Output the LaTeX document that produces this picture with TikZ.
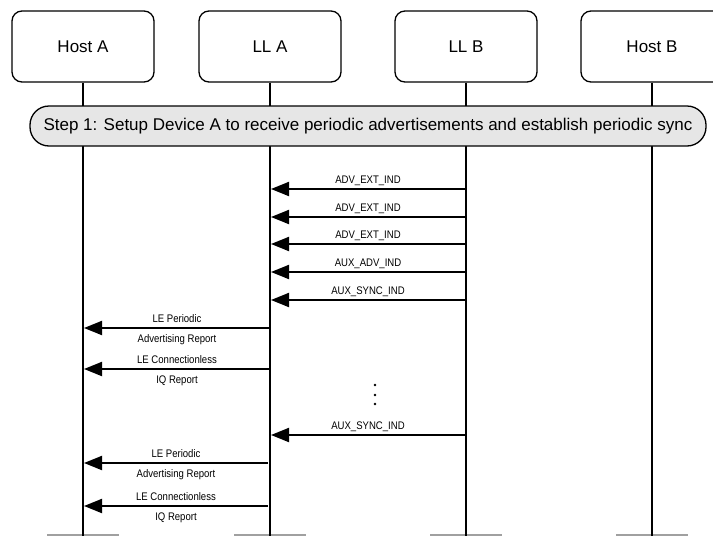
\documentclass[tikz,border=0pt]{standalone}
\usepackage{fontspec}
\setmainfont{Liberation Sans}
\newfontfamily\narrowfont[FakeStretch=0.87]{Liberation Sans}
\usetikzlibrary{arrows.meta}
\definecolor{stepfill}{RGB}{230,230,230}
\definecolor{capgray}{RGB}{160,160,160}

\begin{document}
\begin{tikzpicture}[x=1pt,y=-1pt,
  actor/.style={draw, line width=1.3pt, rounded corners=10pt,
    minimum width=142pt, minimum height=71pt,
    font=\fontsize{17}{20}\selectfont},
  lifeline/.style={line width=2pt},
  endcap/.style={draw=capgray, line width=1.5pt},
  stepband/.style={draw, line width=1.3pt, fill=stepfill, rounded corners=19pt,
    minimum width=676pt, minimum height=40pt,
    font=\fontsize{17}{20}\selectfont},
  msg/.style={line width=2pt, -{Triangle[length=18pt,width=14pt]}},
  lbl/.style={font=\narrowfont\fontsize{11}{13}\selectfont, inner sep=0pt, anchor=base},
  lblup/.style={lbl, midway, yshift=6pt},
  lbldown/.style={lbl, midway, yshift=-14pt}]
\clip (0,0) rectangle (713,536);

% participants
\node[actor] (hostA) at (83,46.5) {Host A};
\node[actor] (llA)   at (270,46.5) {LL A};
\node[actor] (llB)   at (466,46.5) {LL B};
\node[actor] (hostB) at (652,46.5) {Host B};

% lower ends of the lifelines
\coordinate (endHA) at (83,536);
\coordinate (endLA) at (270,536);
\coordinate (endLB) at (466,536);
\coordinate (endHB) at (652,536);

% bottom caps
\draw[endcap] ([xshift=-36pt,yshift=1pt]endHA) -- ([xshift=36pt,yshift=1pt]endHA);
\draw[endcap] ([xshift=-36pt,yshift=1pt]endLA) -- ([xshift=36pt,yshift=1pt]endLA);
\draw[endcap] ([xshift=-36pt,yshift=1pt]endLB) -- ([xshift=36pt,yshift=1pt]endLB);
\draw[endcap] ([xshift=-36pt,yshift=1pt]endHB) -- ([xshift=36pt,yshift=1pt]endHB);

% lifelines
\draw[lifeline] (hostA.south) -- (endHA);
\draw[lifeline] (llA.south) -- (endLA);
\draw[lifeline] (llB.south) -- (endLB);
\draw[lifeline] (hostB.south) -- (endHB);

% step banner
\node[stepband] (step) at (368,126)
  {Step 1: Setup Device A to receive periodic advertisements and establish periodic sync};

% message points on the lifelines
\foreach \n/\y in {1/189,2/217,3/244,4/272,5/300,6/435}{
  \coordinate (b\n) at (465,\y);
  \coordinate (a\n) at (271,\y);
}
\foreach \n/\y in {1/328,2/369}{
  \coordinate (la\n) at (270,\y);
  \coordinate (ha\n) at (84,\y);
}
\foreach \n/\y in {3/463,4/506}{
  \coordinate (la\n) at (268,\y);
  \coordinate (ha\n) at (84,\y);
}

% LL B -> LL A
\draw[msg] (b1) -- (a1) node[lblup] {ADV\_EXT\_IND};
\draw[msg] (b2) -- (a2) node[lblup] {ADV\_EXT\_IND};
\draw[msg] (b3) -- (a3) node[lblup] {ADV\_EXT\_IND};
\draw[msg] (b4) -- (a4) node[lblup] {AUX\_ADV\_IND};
\draw[msg] (b5) -- (a5) node[lblup] {AUX\_SYNC\_IND};

% LL A -> Host A
\draw[msg] (la1) -- (ha1) node[lblup] {LE Periodic} node[lbldown] {Advertising Report};
\draw[msg] (la2) -- (ha2) node[lblup] {LE Connectionless} node[lbldown] {IQ Report};

% continuation dots
\foreach \y in {385,395,404} \fill (375,\y) circle (1.3pt);

\draw[msg] (b6) -- (a6) node[lblup] {AUX\_SYNC\_IND};
\draw[msg] (la3) -- (ha3) node[lblup] {LE Periodic} node[lbldown] {Advertising Report};
\draw[msg] (la4) -- (ha4) node[lblup] {LE Connectionless} node[lbldown] {IQ Report};
\end{tikzpicture}
\end{document}
